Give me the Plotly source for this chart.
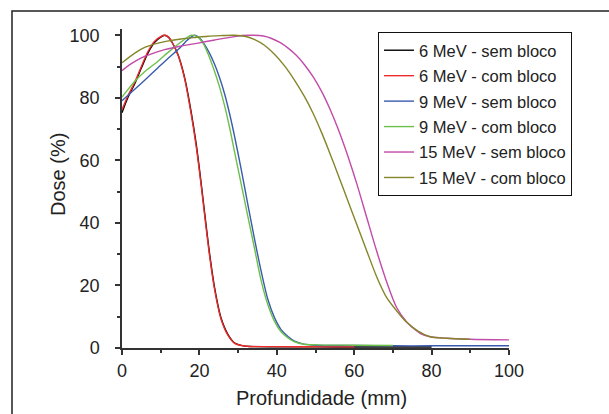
import plotly.graph_objects as go

FONT = "Liberation Sans Narrow, Arial Narrow, Liberation Sans, sans-serif"

# ---- data (depth in mm, dose in %) ----
x_6_sem = [0, 1.5, 3.3, 5, 6.7, 8.5, 10, 11, 12, 13, 14.5, 16.2, 17.9, 19.2, 20.5, 21.3, 22.6, 23.9, 25.6, 27.4, 29.1, 30.8, 33, 40, 50, 60, 70, 80]
y_6_sem = [75.2, 80, 84.5, 89.5, 94.3, 97.8, 99.4, 100, 99.4, 97.6, 93.7, 86.4, 75.3, 65, 52.2, 43.8, 30.5, 19.5, 9.6, 4.3, 1.6, 0.85, 0.5, 0.4, 0.35, 0.3, 0.3, 0.3]

x_6_com = [0, 1.5, 3.3, 5, 6.7, 8.5, 10, 11, 12, 13, 14.5, 16.2, 17.9, 19.2, 20.5, 21.3, 22.6, 23.9, 25.6, 27.4, 29.1, 30.8, 33, 40, 50, 60]
y_6_com = [76.2, 80.6, 85, 90, 94.8, 98.2, 99.6, 100, 99.4, 97.6, 93.6, 86, 74.6, 64.2, 51.5, 43.0, 29.8, 18.9, 9.2, 4.0, 1.5, 0.8, 0.5, 0.45, 0.4, 0.4]

x_9_sem = [0, 1, 3, 6, 9.3, 12, 15, 17, 18.8, 20, 21.3, 22.6, 23.9, 25.2, 26.5, 27.8, 29.1, 30.8, 32.5, 34.3, 36.0, 37.7, 39.4, 41.1, 42.9, 44.6, 47, 50, 60, 70, 80, 90, 100]
y_9_sem = [79.1, 80.2, 82.4, 85.8, 89.6, 92.7, 96.0, 98.6, 100, 99.2, 97.1, 94.3, 90.8, 86.5, 81.3, 74.9, 67.6, 57.1, 46.0, 34.5, 24.3, 15.5, 9.7, 5.9, 3.7, 2.2, 1.25, 0.9, 0.8, 0.7, 0.7, 0.7, 0.7]

x_9_com = [0, 1, 3.3, 6, 9.3, 12, 15, 17.9, 19.5, 21, 22.4, 23.9, 25.2, 26.5, 27.8, 29.1, 30.8, 32.5, 34.3, 36.0, 37.7, 39.4, 41.1, 42.9, 44.6, 47, 50, 60, 70]
y_9_com = [80.2, 81.8, 85.3, 88.5, 91.7, 94.6, 97.6, 100, 99.5, 97.3, 93.5, 88.5, 83.5, 77.5, 70.5, 62.6, 52.4, 42.2, 31.5, 21.3, 13.8, 8.5, 5.2, 3.2, 2.0, 1.2, 1.0, 0.9, 0.8]

x_15_sem = [0, 2, 5, 8, 11, 15, 19.6, 24, 28.2, 31, 34, 36.5, 38.5, 40.8, 43, 45.1, 47.2, 49.4, 51.5, 53.7, 55.8, 58.0, 60.6, 63.2, 65.8, 68.4, 70.9, 73.5, 75.3, 77.0, 79.6, 83.9, 89.9, 100]
y_15_sem = [88.7, 90.6, 92.8, 94.2, 95.4, 96.5, 97.5, 98.5, 99.4, 99.9, 100, 99.75, 99.05, 97.7, 95.8, 93.5, 90.5, 86.7, 82.2, 76.5, 70.2, 62.7, 52.8, 41.9, 31.0, 21.1, 13.1, 8.4, 6.3, 4.7, 3.6, 3.1, 2.8, 2.6]

x_15_com = [0, 3.3, 6, 9.3, 12, 15.3, 19, 22.2, 26, 29.1, 32, 34.3, 36.8, 39.4, 42, 44.6, 47.2, 49.4, 51.5, 53.7, 55.8, 58.0, 60.6, 63.2, 65.8, 68.4, 70.9, 73.5, 76.5, 79.6, 83.9, 89.9]
y_15_com = [91.2, 94.3, 96.2, 97.5, 98.2, 98.8, 99.3, 99.7, 99.9, 100, 99.6, 98.6, 96.8, 93.9, 90.2, 85.6, 80.3, 75.0, 69.1, 62.3, 55.5, 48.3, 39.7, 31.2, 22.8, 16.1, 12.0, 8.3, 5.4, 3.6, 3.1, 2.8]

series_names = ["6 MeV - sem bloco", "6 MeV - com bloco", "9 MeV - sem bloco",
                "9 MeV - com bloco", "15 MeV - sem bloco", "15 MeV - com bloco"]
series_x = [x_6_sem, x_6_com, x_9_sem, x_9_com, x_15_sem, x_15_com]
series_y = [y_6_sem, y_6_com, y_9_sem, y_9_com, y_15_sem, y_15_com]
colors = ["#000000", "#ee2a2a", "#3a5aad", "#6cc04a", "#c24aa8", "#85852a"]

x_ticks = [0, 20, 40, 60, 80, 100]
y_ticks = [0, 20, 40, 60, 80, 100]

fig = go.Figure()
for name, xs, ys, c in zip(series_names, series_x, series_y, colors):
    fig.add_trace(go.Scatter(x=xs, y=ys, name=name, mode="lines", legendgroup=name,
                             line=dict(color=c, width=1.4, shape="spline", smoothing=0.8)))

L, R, T, B = 122, 100, 29, 66
W, H = 609, 414
pw, ph = W - L - R, H - T - B

def px(xp):
    return (xp - L) / pw

def py(yp):
    return (H - B - yp) / ph

axis_common = dict(showgrid=False, zeroline=False, showline=True, linecolor="#333333",
                   linewidth=1.5, ticks="outside", ticklen=5, tickwidth=1.5, tickcolor="#333333",
                   tickfont=dict(family=FONT, size=18, color="#222222"),
                   minor=dict(ticks="outside", ticklen=3, tickwidth=1.5, tickcolor="#333333", dtick=10))

fig.update_xaxes(range=[0, 100], tickvals=x_ticks, ticklabelstandoff=1, **axis_common)
fig.update_yaxes(range=[0, 102], tickvals=y_ticks, ticklabelstandoff=12, **axis_common)

fig.update_layout(
    width=W, height=H,
    margin=dict(l=L, r=R, t=T, b=B),
    paper_bgcolor="white", plot_bgcolor="white",
    font=dict(family=FONT, color="#222222"),
    showlegend=True,
    legend=dict(x=px(378), y=py(32), xanchor="left", yanchor="top",
                bgcolor="white", bordercolor="#111111", borderwidth=1,
                font=dict(family=FONT, size=16.5, color="#222222"),
                tracegroupgap=1, itemwidth=30),
    shapes=[
        dict(type="rect", xref="paper", yref="paper",
             x0=px(12), x1=px(700), y0=py(11), y1=py(500),
             line=dict(color="#222222", width=1.5), fillcolor="rgba(0,0,0,0)", layer="below"),
    ],
    annotations=[
        dict(text="Profundidade (mm)", xref="paper", yref="paper", x=px(321), y=py(398),
             xanchor="center", yanchor="middle", showarrow=False,
             font=dict(family=FONT, size=20, color="#222222")),
        dict(text="Dose (%)", xref="paper", yref="paper", x=px(58), y=py(175),
             xanchor="center", yanchor="middle", textangle=-90, showarrow=False,
             font=dict(family=FONT, size=20, color="#222222")),
    ],
)

fig.write_html("out.html")
